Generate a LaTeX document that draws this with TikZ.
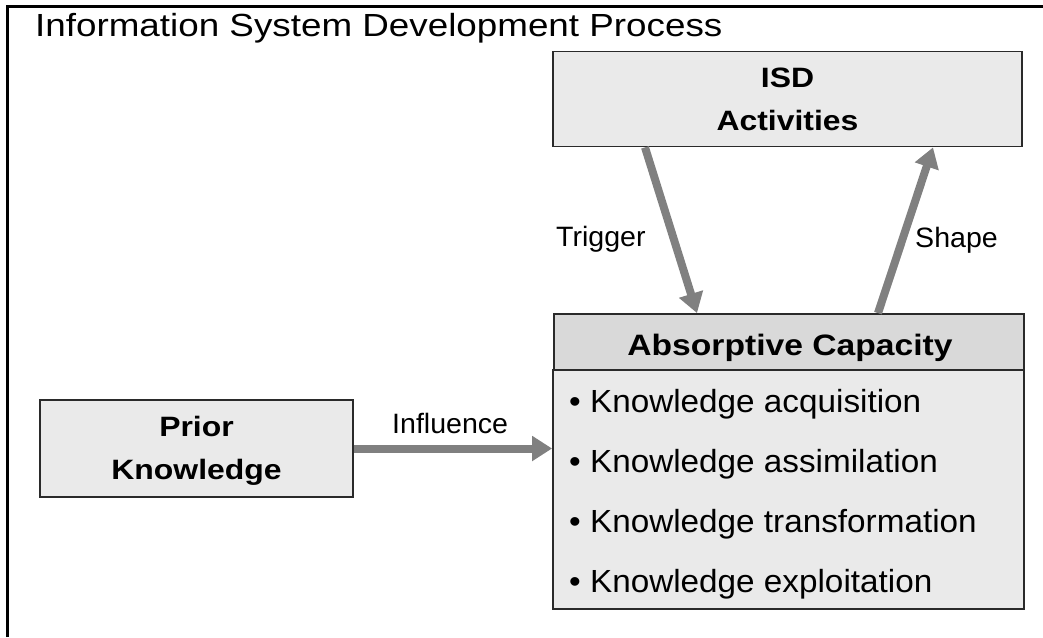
\documentclass[tikz,border=0pt]{standalone}
\usepackage{fontspec}
\setmainfont{Liberation Sans}
\newfontfamily\ttlfont[FakeStretch=1.15]{Liberation Sans}
\newfontfamily\itmfont[FakeStretch=1.04]{Liberation Sans}
\newfontfamily\lblfont[FakeStretch=1.02]{Liberation Sans}
\newfontfamily\bldfont[FakeStretch=1.14]{Liberation Sans Bold}
\usetikzlibrary{arrows.meta}
\definecolor{boxfill}{HTML}{EAEAEA}
\definecolor{headfill}{HTML}{D9D9D9}
\definecolor{arrowgray}{HTML}{808080}
\definecolor{edge}{HTML}{2A2A2A}
\tikzset{
  box/.style={draw=edge, line width=1.8pt, fill=boxfill, inner sep=0pt},
  boxtext/.style={font=\bldfont\fontsize{28}{43}\selectfont, align=center, text=black},
  flow/.style={draw=arrowgray, line width=8pt, -{Triangle[width=24pt,length=20pt]}},
  lbl/.style={font=\lblfont\fontsize{28}{34}\selectfont, anchor=base west, inner sep=0pt},
  item/.style={font=\itmfont\fontsize{32}{38}\selectfont, anchor=base west, inner sep=0pt},
}
\begin{document}
\begin{tikzpicture}[x=1pt,y=-1pt]
\useasboundingbox (0,0) rectangle (1043,637);
% open frame
\coordinate (ftop) at (7.5,6);
\coordinate (fright) at (1043,6);
\coordinate (fbot) at (7.5,637);
\draw[line width=3pt, black] (fbot) -- (ftop) -- (fright);
\node[font=\ttlfont\fontsize{32}{38}\selectfont, anchor=base west, inner sep=0pt] (title) at (35,36) {Information System Development Process};

% boxes
\node[box, minimum width=469pt, minimum height=95pt] (isd) at (787.5,99) {};
\node[boxtext] (isdt) at (787.5,99) {ISD\\Activities};
\node[box, minimum width=313pt, minimum height=97pt] (prior) at (196.5,448.5) {};
\node[boxtext] (priort) at (196.5,451) {Prior\\Knowledge};
\node[box, minimum width=471pt, minimum height=239pt] (body) at (788.5,489.5) {};
\node[box, fill=headfill, minimum width=469.5pt, minimum height=56pt] (head) at (789,342) {};
\node[font=\bldfont\fontsize{29.5}{36}\selectfont, anchor=base, inner sep=0pt] (headt) at (790,355) {Absorptive Capacity};

% items
\node[item] (i1) at (569,412) {• Knowledge acquisition};
\node[item] (i2) at (569,472) {• Knowledge assimilation};
\node[item] (i3) at (569,532) {• Knowledge transformation};
\node[item] (i4) at (569,592) {• Knowledge exploitation};

% connectors
\draw[flow] ([xshift=-142.5pt]isd.south) -- ([xshift=-92pt]head.north);
\draw[flow] ([xshift=89pt]head.north) -- ([xshift=145.5pt]isd.south);
\draw[flow] (prior.east) -- (prior.east -| body.west);

% labels
\node[lbl] (trig) at (556,246) {Trigger};
\node[lbl] (shp) at (915,247) {Shape};
\node[lbl] (infl) at (392,433) {Influence};
\end{tikzpicture}
\end{document}
